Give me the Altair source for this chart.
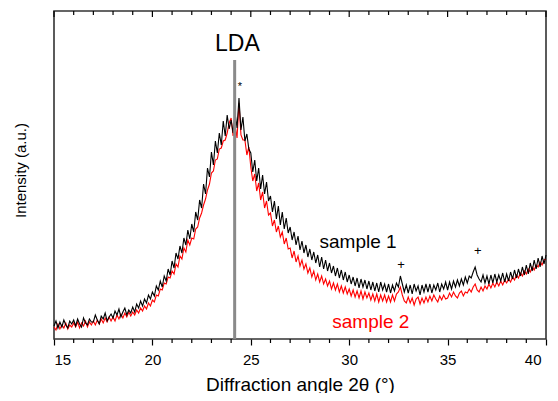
import altair as alt
import pandas as pd

# 2-theta grid (degrees), 0.1 deg step
angles = [round(15 + 0.1 * i, 1) for i in range(251)]

sample1 = [
    13, 18, 11, 17, 12, 19, 14, 11, 18, 15,
    19, 13, 20, 15, 12, 21, 16, 14, 20, 17,
    17, 24, 19, 15, 23, 20, 26, 18, 22, 25,
    21, 28, 24, 30, 22, 27, 31, 24, 29, 26,
    32, 27, 35, 31, 38, 33, 40, 36, 44, 40,
    47, 43, 53, 49, 58, 52, 63, 58, 70, 64,
    78, 71, 86, 80, 93, 86, 101, 94, 109, 100,
    115, 107, 127, 119, 139, 131, 155, 145, 171, 162,
    187, 174, 198, 186, 206, 194, 218, 203, 224, 210,
    219, 206, 226, 211, 241, 209, 222, 198, 205, 190,
    186, 167, 179, 158, 171, 150, 164, 145, 157, 138,
    143, 127, 138, 120, 133, 114, 127, 110, 121, 106,
    112, 99, 107, 94, 103, 89, 98, 86, 94, 82,
    90, 79, 87, 76, 84, 72, 82, 70, 79, 68,
    76, 66, 73, 63, 71, 61, 69, 59, 67, 57,
    64, 55, 62, 53, 61, 51, 60, 52, 59, 50,
    58, 49, 57, 48, 56, 47, 57, 49, 55, 47,
    55, 46, 54, 48, 56, 52, 63, 55, 47, 54,
    46, 54, 45, 55, 48, 53, 44, 54, 47, 55,
    47, 55, 46, 54, 49, 56, 47, 55, 50, 57,
    49, 57, 50, 58, 52, 59, 53, 60, 54, 62,
    56, 63, 61, 67, 72, 64, 60, 57, 64, 56,
    63, 55, 64, 56, 65, 57, 64, 58, 66, 57,
    65, 58, 67, 60, 69, 61, 70, 63, 72, 64,
    74, 65, 76, 68, 79, 70, 81, 72, 83, 75,
    84,
]

sample2 = [
    12, 9, 15, 10, 14, 11, 16, 10, 14, 12,
    16, 12, 17, 11, 16, 13, 18, 12, 17, 14,
    18, 14, 19, 15, 20, 16, 21, 17, 22, 18,
    22, 18, 24, 20, 25, 21, 26, 22, 27, 23,
    27, 24, 29, 26, 31, 28, 33, 30, 36, 33,
    39, 37, 44, 43, 50, 49, 56, 55, 62, 61,
    68, 65, 75, 72, 83, 80, 91, 87, 99, 94,
    101, 100, 110, 112, 121, 126, 134, 140, 149, 155,
    166, 168, 179, 180, 190, 191, 198, 199, 206, 216,
    221, 203, 214, 201, 236, 204, 199, 199, 184, 192,
    172, 158, 165, 148, 156, 139, 147, 131, 138, 124,
    126, 113, 119, 107, 113, 102, 107, 95, 101, 90,
    91, 81, 88, 77, 83, 73, 79, 70, 75, 66,
    71, 62, 68, 59, 65, 57, 63, 55, 60, 53,
    58, 50, 56, 49, 55, 47, 53, 46, 52, 45,
    50, 43, 49, 42, 48, 41, 48, 40, 47, 41,
    46, 39, 45, 38, 45, 37, 44, 38, 44, 37,
    43, 37, 44, 38, 45, 47, 52, 44, 38, 36,
    42, 36, 41, 34, 40, 42, 35, 41, 36, 42,
    37, 43, 38, 44, 40, 37, 43, 39, 44, 40,
    41, 46, 42, 47, 43, 41, 46, 48, 43, 47,
    46, 50, 47, 52, 55, 49, 47, 52, 48, 53,
    50, 55, 51, 56, 52, 57, 53, 58, 54, 59,
    56, 60, 57, 62, 59, 64, 61, 66, 63, 68,
    65, 70, 67, 72, 69, 74, 72, 77, 74, 79,
    80,
]

major_ticks = [15, 20, 25, 30, 35, 40]
minor_ticks = [t for t in range(15, 41) if t % 5 != 0]

lda_pos = [24.18]
lda_top = [279]

labels_text = ["LDA", "*", "+", "+", "sample 1", "sample 2"]
labels_x = [24.32, 24.45, 32.63, 36.53, 30.45, 31.1]
labels_y = [288, 249, 70.5, 84.5, 91, 10.7]
labels_color = ["#000000", "#000000", "#000000", "#000000", "#000000", "#ff0000"]
labels_size = [23, 11, 13, 13, 19, 19]

FONT = "Liberation Sans"
W, H = 492, 328

xs = alt.Scale(domain=[15, 40], nice=False, zero=False)
ys = alt.Scale(domain=[0, 328], nice=False, zero=False)

x_axis = alt.Axis(
    values=major_ticks, format="d", tickSize=6, tickWidth=1.2, tickColor="#000",
    domain=False, grid=False, labelFont=FONT, labelFontSize=15, labelColor="#000",
    labelPadding=7,
    labelOffset={"condition": {"test": "datum.value == 40", "value": -5}, "value": 0},
    title="Diffraction angle 2θ (°)", titleFont=FONT, titleFontSize=19,
    titleFontWeight="normal", titleColor="#000", titleBaseline="alphabetic", titleY=51,
)
y_axis = alt.Axis(
    labels=False, ticks=False, domain=False, grid=False,
    title="Intensity (a.u.)", titleFont=FONT, titleFontSize=15,
    titleFontWeight="normal", titleColor="#000", titleBaseline="middle",
    titleAlign="center", titleX=-34, titleY=159,
)

df1 = pd.DataFrame({"x": angles, "y": sample1})
df2 = pd.DataFrame({"x": angles, "y": sample2})

red = alt.Chart(df2).mark_line(color="#ff0000", strokeWidth=1.1).encode(
    x=alt.X("x:Q", scale=xs, axis=x_axis),
    y=alt.Y("y:Q", scale=ys, axis=y_axis),
)
black = alt.Chart(df1).mark_line(color="#000000", strokeWidth=1.1).encode(
    x=alt.X("x:Q", scale=xs),
    y=alt.Y("y:Q", scale=ys),
)

lda = alt.Chart(pd.DataFrame({"x": lda_pos, "y": [0], "y2": lda_top})).mark_rule(
    color="#8a8a8a", strokeWidth=3).encode(
    x=alt.X("x:Q", scale=xs),
    y=alt.Y("y:Q", scale=ys),
    y2="y2:Q",
)

minor_bottom = alt.Chart(pd.DataFrame({"x": minor_ticks})).mark_rule(
    color="#000", strokeWidth=1.2).encode(
    x=alt.X("x:Q", scale=xs), y=alt.value(H), y2=alt.value(H + 4))
top_major = alt.Chart(pd.DataFrame({"x": major_ticks})).mark_rule(
    color="#000", strokeWidth=1.2).encode(
    x=alt.X("x:Q", scale=xs), y=alt.value(0), y2=alt.value(6))
top_minor = alt.Chart(pd.DataFrame({"x": minor_ticks})).mark_rule(
    color="#000", strokeWidth=1.2).encode(
    x=alt.X("x:Q", scale=xs), y=alt.value(0), y2=alt.value(4))

df_lab = pd.DataFrame({"x": labels_x, "y": labels_y, "t": labels_text,
                       "c": labels_color, "s": labels_size})
texts = alt.Chart(df_lab).mark_text(font=FONT, baseline="alphabetic", align="center").encode(
    x=alt.X("x:Q", scale=xs),
    y=alt.Y("y:Q", scale=ys),
    text="t:N",
    color=alt.Color("c:N", scale=None),
    size=alt.Size("s:Q", scale=None),
)

chart = alt.layer(red, black, lda, minor_bottom, top_major, top_minor, texts).properties(
    width=W, height=H,
    autosize=alt.AutoSizeParams(type="none"),
    padding={"left": 46, "top": 3, "right": 4, "bottom": 54},
).configure_view(stroke="#333333", strokeWidth=1.6)

chart.save("out.html", embed_options={"renderer": "svg", "actions": False})
